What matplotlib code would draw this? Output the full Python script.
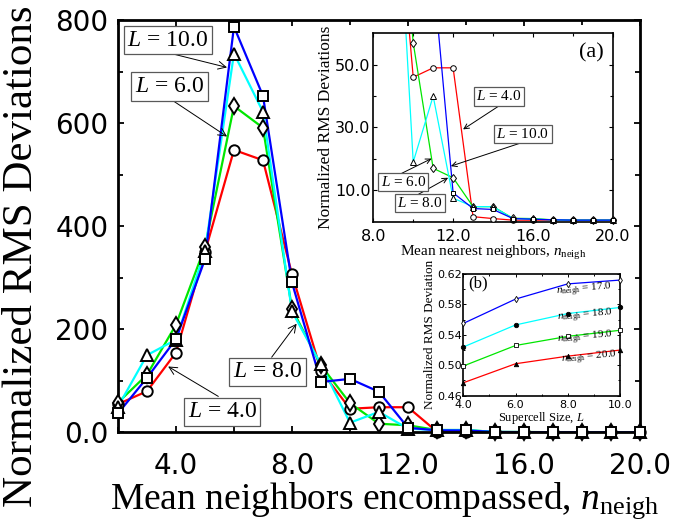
import matplotlib
matplotlib.use('Agg')
import matplotlib.pyplot as plt
import numpy as np
from matplotlib.ticker import MultipleLocator, FixedLocator

# ---------------- data ----------------
n_neigh = list(range(2, 21))
rms_L4 = [55, 80, 155, 350, 548, 528, 307, 120, 46, 49, 49, 1.6, 1.0, 0.5, 0.5, 0.5, 0.5, 0.5, 0.5]
rms_L6 = [58, 112, 209, 360, 633, 591, 240, 130, 57, 17, 14, 4.8, 4.8, 1.1, 1.0, 0.6, 0.5, 0.5, 0.5]
rms_L8 = [50, 150, 180, 352, 735, 622, 235, 132, 19, 40, 7.5, 4.8, 4.8, 1.0, 0.8, 0.6, 0.5, 0.5, 0.5]
rms_L10 = [37, 106, 181, 336, 787, 653, 291, 98, 104, 79, 9.2, 4.2, 3.9, 1.0, 0.8, 0.6, 0.5, 0.5, 0.5]
L_values = ['4.0', '6.0', '8.0', '10.0']

main_xticks = [4, 8, 12, 16, 20]
main_xticklabels = ['4.0', '8.0', '12.0', '16.0', '20.0']
main_yticks = [0, 200, 400, 600, 800]
main_yticklabels = ['0.0', '200', '400', '600', '800']

inset_a_xticks = [8, 12, 16, 20]
inset_a_xticklabels = ['8.0', '12.0', '16.0', '20.0']
inset_a_yticks = [10, 30, 50]
inset_a_yticklabels = ['10.0', '30.0', '50.0']

supercell_L = [4, 6, 8, 10]
dev_n17 = [0.555, 0.587, 0.607, 0.612]
dev_n18 = [0.524, 0.553, 0.568, 0.576]
dev_n19 = [0.499, 0.526, 0.538, 0.546]
dev_n20 = [0.477, 0.502, 0.512, 0.520]
n_labels = ['17.0', '18.0', '19.0', '20.0']
inset_b_xticks = [4, 6, 8, 10]
inset_b_xticklabels = ['4.0', '6.0', '8.0', '10.0']
inset_b_yticks = [0.46, 0.50, 0.54, 0.58, 0.62]
inset_b_yticklabels = ['0.46', '0.50', '0.54', '0.58', '0.62']

# ---------------- style ----------------
plt.rcParams['font.family'] = ['Liberation Serif', 'DejaVu Serif']
plt.rcParams['mathtext.fontset'] = 'custom'
plt.rcParams['mathtext.rm'] = 'Liberation Serif'
plt.rcParams['mathtext.it'] = 'Liberation Serif:italic'
plt.rcParams['mathtext.bf'] = 'Liberation Serif:bold'

RED, GREEN, CYAN, BLUE = '#ff0000', '#00e600', '#00ffff', '#0000ff'
series = [(rms_L4, RED, 'o', 7.5), (rms_L6, GREEN, 'd', 8.5),
          (rms_L8, CYAN, '^', 8), (rms_L10, BLUE, 's', 6.5)]

fig = plt.figure(figsize=(6.73, 5.25), dpi=100)

# ---------------- main axes ----------------
ax = fig.add_axes([0.1753, 0.1762, 0.7756, 0.7857])
for ys, c, m, ms in series:
    ax.plot(n_neigh, ys, color=c, lw=1.6, zorder=2)
for ys, c, m, ms in series:
    ax.plot(n_neigh, ys, ls='none', marker=m, ms=ms, mfc='white', mec='black', mew=1.4,
            zorder=3, clip_on=False)

ax.set_xlim(2, 20)
ax.set_ylim(0, 800)
ax.xaxis.set_major_locator(FixedLocator(main_xticks))
ax.set_xticklabels(main_xticklabels)
ax.xaxis.set_minor_locator(MultipleLocator(2))
ax.yaxis.set_major_locator(FixedLocator(main_yticks))
ax.set_yticklabels(main_yticklabels)
ax.yaxis.set_minor_locator(MultipleLocator(100))
ax.tick_params(which='both', direction='in', top=True, right=True, width=1.3,
               labelsize=20, labelfontfamily='DejaVu Sans')
ax.tick_params(which='major', length=4.5)
ax.tick_params(which='minor', length=3.5)
ax.tick_params(axis='x', pad=14)
ax.tick_params(axis='y', pad=7)
for sp in ax.spines.values():
    sp.set_linewidth(2)

ax.set_xlabel(r'Mean neighbors encompassed, $n_{\rm neigh}$', fontsize=27, va='center')
ax.xaxis.set_label_coords(0.51, -0.165)
ax.set_ylabel('Normalized RMS Deviations', fontsize=31, va='center')
ax.yaxis.set_label_coords(-0.185, 0.428)


def box_label(a, x, y, text, size):
    a.text(x, y, text, ha='center', va='center', fontsize=size, zorder=6,
           bbox=dict(boxstyle='square,pad=0.15', fc='white', ec='0.35', lw=0.9))


def arrow(a, tail, tip, ms=14):
    a.annotate('', xy=tip, xytext=tail, zorder=5,
               arrowprops=dict(arrowstyle='->', lw=0.7, color='black',
                               shrinkA=0, shrinkB=0, mutation_scale=ms))


lab = [r'$L$ = ' + v for v in L_values]
box_label(ax, 3.72, 761, lab[3], 17)
arrow(ax, (3.69, 737), (5.76, 708))
box_label(ax, 3.78, 671, lab[1], 17)
arrow(ax, (3.72, 650), (5.76, 574))
box_label(ax, 7.16, 118, lab[2], 17)
arrow(ax, (7.30, 146), (8.16, 211))
box_label(ax, 5.60, 40, lab[0], 17)
arrow(ax, (5.46, 70), (3.73, 128))

# ---------------- inset (a) ----------------
axa = fig.add_axes([0.5547, 0.5777, 0.3557, 0.3589])
axa.set_facecolor('white')
A_XMIN, A_XMAX, A_YMAX = 8, 20, 60
small = [(rms_L4, RED, 'o', 4), (rms_L6, GREEN, 'd', 4.5),
         (rms_L8, CYAN, '^', 4), (rms_L10, BLUE, 's', 3.5)]
for ys, c, m, ms in small:
    axa.plot(n_neigh, ys, color=c, lw=0.9, zorder=2)
for ys, c, m, ms in small:
    xs_arr = np.array(n_neigh)
    ys_arr = np.array(ys)
    keep = (ys_arr <= A_YMAX) & (xs_arr >= A_XMIN) & (xs_arr <= A_XMAX)
    axa.plot(xs_arr[keep], ys_arr[keep], ls='none', marker=m, ms=ms, mfc='white',
             mec='black', mew=0.7, zorder=3, clip_on=False)
axa.set_xlim(A_XMIN, A_XMAX)
axa.set_ylim(0, A_YMAX)
axa.xaxis.set_major_locator(FixedLocator(inset_a_xticks))
axa.set_xticklabels(inset_a_xticklabels)
axa.xaxis.set_minor_locator(MultipleLocator(2))
axa.yaxis.set_major_locator(FixedLocator(inset_a_yticks))
axa.set_yticklabels(inset_a_yticklabels)
axa.yaxis.set_minor_locator(FixedLocator([20, 40]))
axa.tick_params(which='both', direction='in', top=True, right=True, width=0.8,
                labelsize=11.5, labelfontfamily='DejaVu Sans')
axa.tick_params(which='major', length=3)
axa.tick_params(which='minor', length=2)
axa.tick_params(axis='x', pad=5)
axa.tick_params(axis='y', pad=2)
for sp in axa.spines.values():
    sp.set_linewidth(1.2)
axa.set_xlabel(r'Mean nearest neighbors, $n_{\rm neigh}$', fontsize=11, labelpad=0)
axa.set_ylabel('Normalized RMS Deviations', fontsize=12.5, labelpad=1)
axa.text(18.92, 53.8, '(a)', fontsize=16, ha='center', va='center')

box_label(axa, 14.29, 39.9, lab[0], 11)
arrow(axa, (14.33, 37.0), (12.5, 29.4), 9)
box_label(axa, 15.5, 27.9, lab[3], 11)
arrow(axa, (15.5, 25.3), (11.89, 17.7), 9)
box_label(axa, 9.5, 12.7, lab[1], 11)
arrow(axa, (9.42, 15.4), (10.92, 20.1), 9)
box_label(axa, 10.35, 5.9, lab[2], 11)
arrow(axa, (10.17, 8.4), (11.75, 14.0), 9)

# ---------------- inset (b) ----------------
axb = fig.add_axes([0.6884, 0.2463, 0.2328, 0.2318])
axb.set_facecolor('white')
bser = [(dev_n17, BLUE, 'd', 'white'), (dev_n18, CYAN, 'o', 'black'),
        (dev_n19, GREEN, 's', 'white'), (dev_n20, RED, '^', 'black')]
for ys, c, m, fc in bser:
    axb.plot(supercell_L, ys, color=c, lw=0.9, zorder=2)
    axb.plot(supercell_L, ys, ls='none', marker=m, ms=3.2, mfc=fc, mec='black', mew=0.6,
             zorder=3, clip_on=False)
axb.set_xlim(4, 10)
axb.set_ylim(0.46, 0.62)
axb.xaxis.set_major_locator(FixedLocator(inset_b_xticks))
axb.set_xticklabels(inset_b_xticklabels)
axb.xaxis.set_minor_locator(MultipleLocator(1))
axb.yaxis.set_major_locator(FixedLocator(inset_b_yticks))
axb.set_yticklabels(inset_b_yticklabels)
axb.yaxis.set_minor_locator(MultipleLocator(0.02))
axb.tick_params(which='both', direction='in', top=True, right=True, width=0.7,
                labelsize=8, labelfontfamily='DejaVu Sans')
axb.tick_params(which='major', length=2.5)
axb.tick_params(which='minor', length=1.5)
axb.tick_params(axis='x', pad=3)
axb.tick_params(axis='y', pad=1)
for sp in axb.spines.values():
    sp.set_linewidth(1.2)
axb.set_xlabel(r'Supercell Size, $L$', fontsize=9, labelpad=0)
axb.set_ylabel('Normalized RMS Deviation', fontsize=9.5, labelpad=1)
axb.text(4.56, 0.607, '(b)', fontsize=12, ha='center', va='center')
label_pos = [(7.55, 0.596), (7.62, 0.562), (7.62, 0.532), (7.75, 0.506)]
for (x, y), nl in zip(label_pos, n_labels):
    axb.text(x, y, r'$n_{\rm neigh}$ = ' + nl, fontsize=8, ha='left', va='center',
             rotation=5, rotation_mode='anchor')

fig.savefig('out.png', dpi=100)
